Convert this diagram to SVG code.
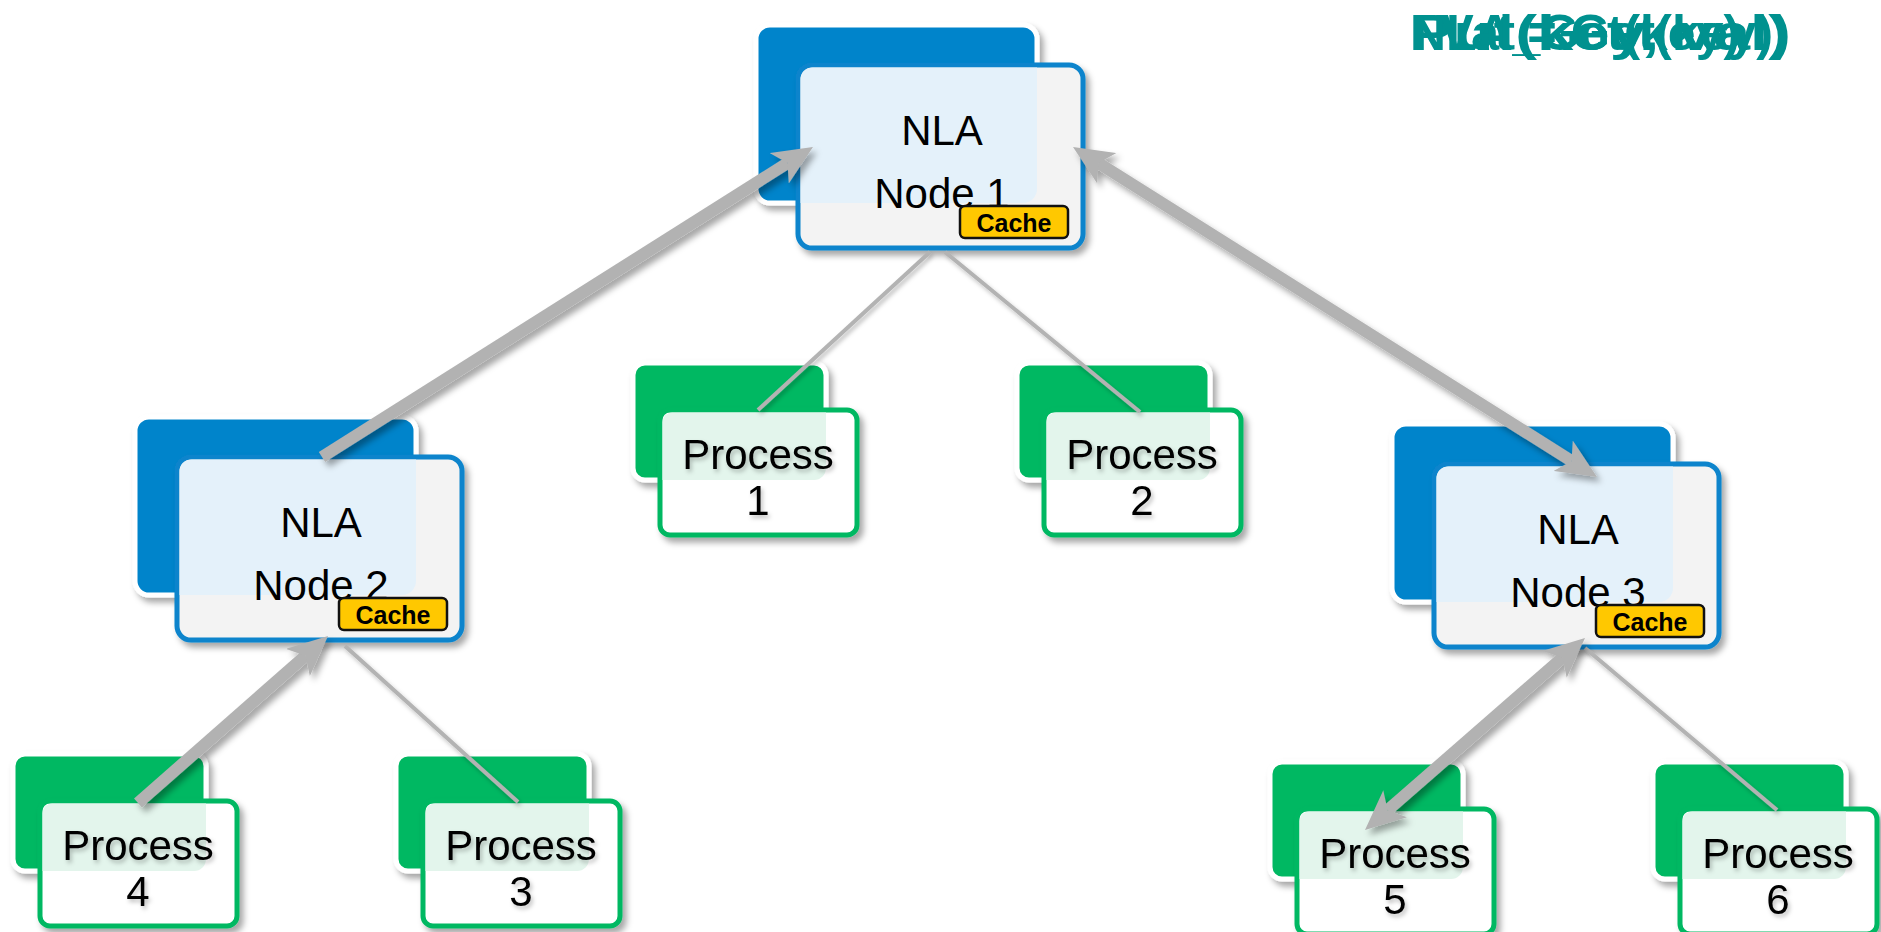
<svg xmlns="http://www.w3.org/2000/svg" xmlns:xlink="http://www.w3.org/1999/xlink" width="1881" height="932" viewBox="0 0 1881 932">
<defs>
<style>
.bb{fill:#0284cb;stroke:#fff;stroke-width:5}
.bf{fill:#f3f3f3;stroke:#0a84cc;stroke-width:5}
.bo{fill:#e4f1fa}
.gb{fill:#00b862;stroke:#fff;stroke-width:5}
.gf{fill:#fff;stroke:#00b862;stroke-width:5}
.go{fill:#e3f5ec}
.t{font-family:"Liberation Sans",Arial,sans-serif;font-size:42px;fill:#000;text-anchor:middle}
.cb{fill:#ffc800;stroke:#111;stroke-width:2.5}
.ct{font-family:"Liberation Sans",Arial,sans-serif;font-size:25px;font-weight:bold;fill:#000;text-anchor:middle}
.thick{stroke:#b2b2b2;stroke-width:12;fill:none}
.thin{stroke:#b3b3b3;stroke-width:4;fill:none}
.top{font-family:"Liberation Sans",Arial,sans-serif;font-size:50px;font-weight:bold;fill:#00918f}
</style>
<filter id="sh" x="-20%" y="-20%" width="140%" height="140%">
<feDropShadow dx="4" dy="5" stdDeviation="3" flood-color="#000" flood-opacity="0.35"/>
</filter>
<filter id="tsh" x="-20%" y="-20%" width="140%" height="140%">
<feDropShadow dx="2" dy="3" stdDeviation="2" flood-color="#000" flood-opacity="0.25"/>
</filter>
<marker id="ah" viewBox="0 0 40 36" refX="10" refY="18" markerWidth="40" markerHeight="36" markerUnits="userSpaceOnUse" orient="auto-start-reverse">
<path d="M0,0 L40,18 L0,36 L10,18 Z" fill="#b2b2b2"/>
</marker>
<g id="nlaBase">
<rect class="bb" x="0" y="0" width="281" height="178" rx="14" filter="url(#sh)"/>
<rect class="bf" x="42" y="40" width="285" height="183" rx="14" filter="url(#sh)"/>
<path class="bo" d="M57,42.5 H281 V164 a14,14 0 0 1 -14,14 H44.5 V55 a12.5,12.5 0 0 1 12.5,-12.5 Z"/>
<text class="t" x="186" y="120">NLA</text>
</g>
<g id="procBase">
<rect class="gb" x="0" y="0" width="193" height="117" rx="12" filter="url(#sh)"/>
<rect class="gf" x="27" y="47" width="197" height="125" rx="10" filter="url(#sh)"/>
<path class="go" d="M39,49.5 H193 V105 a12,12 0 0 1 -12,12 H29.5 V59 a9.5,9.5 0 0 1 9.5,-9.5 Z"/>
<text class="t" x="125" y="106" filter="url(#tsh)">Process</text>
</g>
</defs>
<rect width="1881" height="932" fill="#fff"/>

<g id="title">
<text class="top" x="1410" y="50" textLength="380" lengthAdjust="spacingAndGlyphs">Put(key, val)</text>
<text class="top" x="1410" y="50" textLength="330" lengthAdjust="spacingAndGlyphs">NLA_Get(key)</text>
<text class="top" x="1440" y="50" textLength="350" lengthAdjust="spacingAndGlyphs">Val = Get(key))</text>
</g>

<g id="node1" transform="translate(756,25)">
<use xlink:href="#nlaBase"/>
<text class="t" x="186" y="183">Node 1</text>
<rect class="cb" x="204" y="181" width="108" height="32" rx="5"/>
<text class="ct" x="258" y="207">Cache</text>
</g>
<g id="node2" transform="translate(135,417)">
<use xlink:href="#nlaBase"/>
<text class="t" x="186" y="183">Node 2</text>
<rect class="cb" x="204" y="181" width="108" height="32" rx="5"/>
<text class="ct" x="258" y="207">Cache</text>
</g>
<g id="node3" transform="translate(1392,424)">
<use xlink:href="#nlaBase"/>
<text class="t" x="186" y="183">Node 3</text>
<rect class="cb" x="204" y="181" width="108" height="32" rx="5"/>
<text class="ct" x="258" y="207">Cache</text>
</g>

<g id="process1" transform="translate(633,363)">
<use xlink:href="#procBase"/>
<text class="t" x="125" y="152" filter="url(#tsh)">1</text>
</g>
<g id="process2" transform="translate(1017,363)">
<use xlink:href="#procBase"/>
<text class="t" x="125" y="152" filter="url(#tsh)">2</text>
</g>
<g id="process3" transform="translate(396,754)">
<use xlink:href="#procBase"/>
<text class="t" x="125" y="152" filter="url(#tsh)">3</text>
</g>
<g id="process4" transform="translate(13,754)">
<use xlink:href="#procBase"/>
<text class="t" x="125" y="152" filter="url(#tsh)">4</text>
</g>
<g id="process5" transform="translate(1270,762)">
<use xlink:href="#procBase"/>
<text class="t" x="125" y="152" filter="url(#tsh)">5</text>
</g>
<g id="process6" transform="translate(1653,762)">
<use xlink:href="#procBase"/>
<text class="t" x="125" y="152" filter="url(#tsh)">6</text>
</g>

<g id="connectors">
<g filter="url(#tsh)">
<line class="thin" x1="930" y1="252" x2="758" y2="410"/>
<line class="thin" x1="945" y1="252" x2="1140" y2="412"/>
<line class="thin" x1="345" y1="646" x2="518" y2="802"/>
<line class="thin" x1="1585" y1="648" x2="1777" y2="810"/>
</g>
<g filter="url(#sh)">
<line class="thick" x1="322" y1="457" x2="787.6" y2="163" marker-end="url(#ah)"/>
<line class="thick" x1="1098.4" y1="163" x2="1571.6" y2="461" marker-start="url(#ah)" marker-end="url(#ah)"/>
<line class="thick" x1="138" y1="803" x2="305.5" y2="655.8" marker-end="url(#ah)"/>
<line class="thick" x1="1562.4" y1="657.7" x2="1387.6" y2="810.3" marker-start="url(#ah)" marker-end="url(#ah)"/>
</g>
</g>
</svg>
